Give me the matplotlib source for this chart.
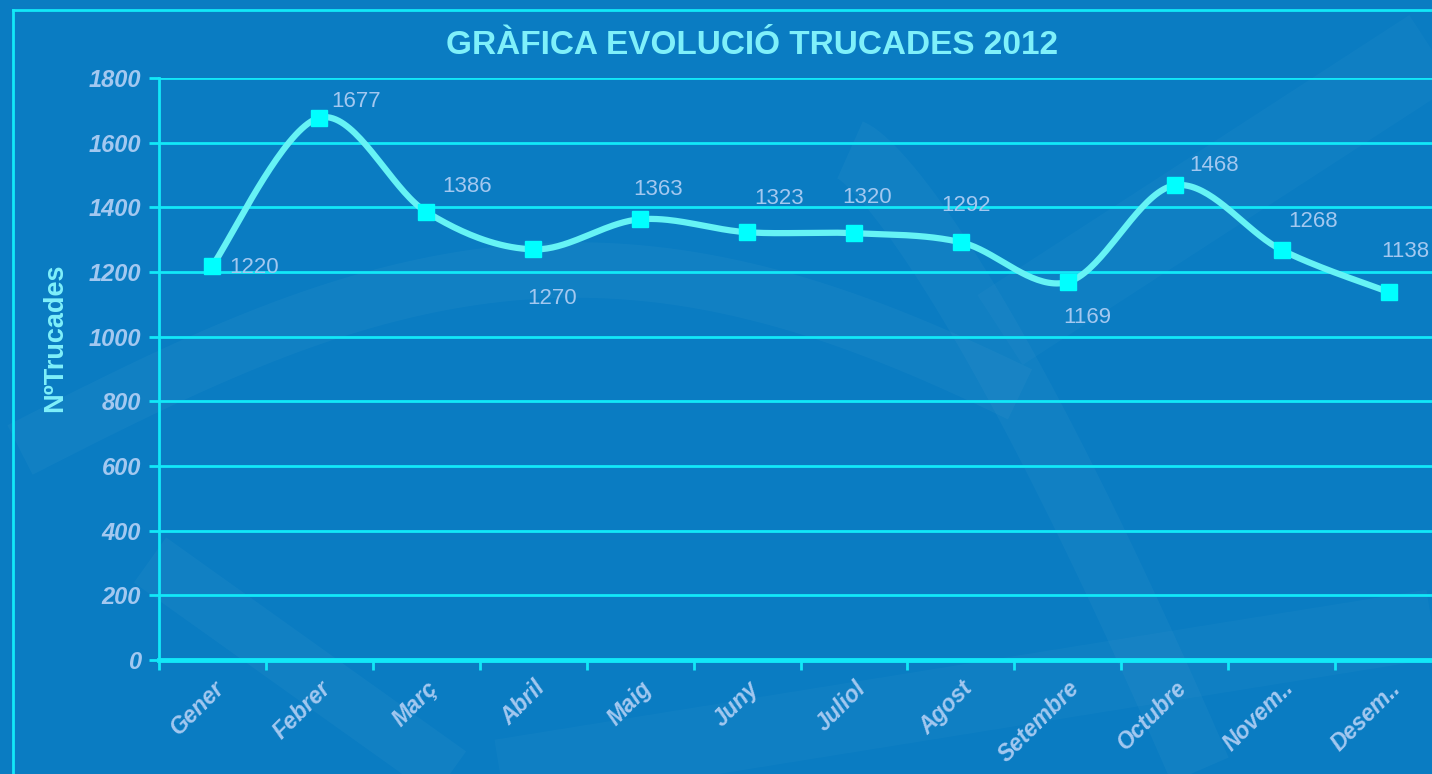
import matplotlib.pyplot as plt
import numpy as np
from matplotlib.lines import Line2D

# Data
months = ['Gener', 'Febrer', 'Març', 'Abril', 'Maig', 'Juny', 'Juliol',
          'Agost', 'Setembre', 'Octubre', 'Novem..', 'Desem..']
calls = [1220, 1677, 1386, 1270, 1363, 1323, 1320, 1292, 1169, 1468, 1268, 1138]
y_ticks = [0, 200, 400, 600, 800, 1000, 1200, 1400, 1600, 1800]

# label offsets in pixels (style only)
label_offsets = [(17, -2), (12, 16), (16, 25), (-6, -49), (-7, 30), (7, 34),
                 (-12, 36), (-20, 37), (-5, -35), (15, 20), (7, 29), (-7, 41)]

bg = '#0a7cc2'
cyan = '#12e8f8'
line_col = '#66f3f5'
tick_col = '#a3c8f0'
title_col = '#7ff0fa'

plt.rcParams['font.family'] = ['Liberation Sans', 'DejaVu Sans']

fig = plt.figure(figsize=(14.32, 7.74), dpi=100, facecolor=bg)

# faint background swooshes
bgax = fig.add_axes([0, 0, 1, 1], zorder=-1)
bgax.set_xlim(0, 1432)
bgax.set_ylim(774, 0)
bgax.axis('off')
t = np.linspace(0, 1, 100)
swoosh = dict(color='white', solid_capstyle='butt')
bgax.plot(20 + 1000 * t, 450 - 180 * np.sin(t * np.pi * 0.9), alpha=0.03, lw=40, **swoosh)
bgax.plot(850 + 350 * t, 150 + 620 * t ** 1.3, alpha=0.03, lw=45, **swoosh)
bgax.plot(1000 + 432 * t, 330 - 280 * t, alpha=0.025, lw=60, **swoosh)
bgax.plot(150 + 300 * t, 560 + 214 * t, alpha=0.03, lw=40, **swoosh)
bgax.plot(500 + 932 * t, 774 - 150 * t, alpha=0.025, lw=50, **swoosh)

ax = fig.add_axes([159 / 1432, 114 / 774, (1442 - 159) / 1432, 582 / 774])
ax.set_facecolor('none')

x = np.arange(len(months))
y = np.array(calls, dtype=float)


# smoothed line (Catmull-Rom like Excel's smoothed line)
def smooth(xs, ys, n=40):
    px = np.concatenate([[xs[0]], xs, [xs[-1]]])
    py = np.concatenate([[ys[0]], ys, [ys[-1]]])
    outx, outy = [], []
    for i in range(1, len(px) - 2):
        p0, p1, p2, p3 = (np.array([px[j], py[j]]) for j in (i - 1, i, i + 1, i + 2))
        c1 = p1 + (p2 - p0) / 6
        c2 = p2 - (p3 - p1) / 6
        tt = np.linspace(0, 1, n)[:, None]
        pts = ((1 - tt) ** 3) * p1 + 3 * ((1 - tt) ** 2) * tt * c1 + 3 * (1 - tt) * tt ** 2 * c2 + tt ** 3 * p2
        outx.extend(pts[:, 0])
        outy.extend(pts[:, 1])
    return np.array(outx), np.array(outy)


sx, sy = smooth(x, y)
ax.plot(sx, sy, color=line_col, lw=4.5, solid_capstyle='round', zorder=3)
ax.plot(x, y, ls='none', marker='s', ms=11, color='#00ffff', zorder=4)

for xi, yi, (dx, dy) in zip(x, calls, label_offsets):
    ax.annotate(str(yi), (xi, yi), xytext=(dx, dy), textcoords='offset pixels',
                ha='left', va='center', fontsize=16, color=tick_col, zorder=5,
                annotation_clip=False)

ax.set_xlim(-0.5, len(months) - 0.5)
ax.set_ylim(0, 1800)
ax.set_yticks(y_ticks)
ax.set_yticklabels([str(v) for v in y_ticks], fontsize=17, fontweight='bold',
                   style='italic', color=tick_col)
ax.yaxis.grid(True, color=cyan, lw=2)
ax.set_axisbelow(True)

ax.set_xticks(np.arange(-0.5, len(months), 1.0))
ax.set_xticklabels([])
ax.set_xticks(x, minor=True)
ax.set_xticklabels(months, minor=True, rotation=45, ha='right', va='top',
                   rotation_mode='anchor', fontsize=16.5, fontweight='bold',
                   style='italic', color=tick_col)
ax.tick_params(axis='x', which='minor', length=0, pad=12)
ax.tick_params(axis='x', which='major', length=7, width=2, color=cyan, direction='out')
ax.tick_params(axis='y', length=7, width=2, color=cyan, pad=6)

for s in ['top', 'right']:
    ax.spines[s].set_visible(False)
ax.spines['left'].set_color(cyan)
ax.spines['left'].set_linewidth(2)
ax.spines['bottom'].set_color(cyan)
ax.spines['bottom'].set_linewidth(3.5)

# outer frame
fig.add_artist(Line2D([12.5 / 1432, 12.5 / 1432], [0, 1 - 10 / 774],
                      transform=fig.transFigure, color=cyan, lw=2))
fig.add_artist(Line2D([12.5 / 1432, 1], [1 - 10 / 774, 1 - 10 / 774],
                      transform=fig.transFigure, color=cyan, lw=2))

fig.text(752 / 1432, 1 - 45 / 774, 'GRÀFICA EVOLUCIÓ TRUCADES 2012',
         ha='center', va='center', fontsize=24, fontweight='bold', color=title_col)
fig.text(55 / 1432, 1 - 338 / 774, 'NºTrucades', rotation=90, ha='center',
         va='center', fontsize=19.5, fontweight='bold', color=title_col)

fig.savefig('out.png', dpi=100, facecolor=bg)
